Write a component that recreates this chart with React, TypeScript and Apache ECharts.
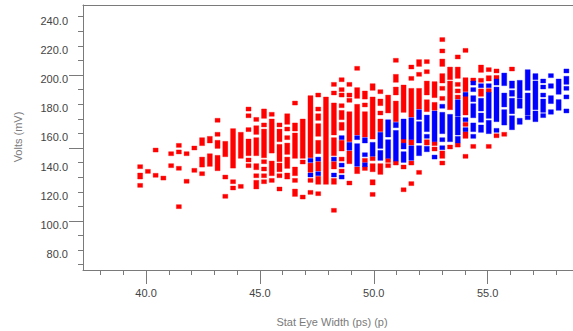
import React, { useEffect, useRef } from "react";
import * as echarts from "echarts";

// Each entry is [eye width (ps), low volts, high volts]; a two-value entry is a single point.
type Run = [number, number, number?];

const xLabelValues = [40, 45, 50, 55];
const xMinorTicks = [38, 39, 40, 41, 42, 43, 44, 45, 46, 47, 48, 49, 50, 51, 52, 53, 54, 55, 56, 57, 58];
const yLabelValues = [80, 100, 120, 140, 160, 180, 200, 220, 240];
const yMinorTicks = [70, 80, 90, 100, 110, 120, 130, 140, 150, 160, 170, 180, 190, 200, 210, 220, 230, 240];
const yMajorTicks = [100, 150, 200];

const failRuns: Run[] = [
  [39.74, 137.2], [39.74, 130.1, 131.5], [39.74, 124.4],
  [40.08, 134],
  [40.42, 148.6], [40.42, 131.3],
  [40.76, 129.4],
  [41.1, 146.1], [41.1, 137.9],
  [41.44, 151.8], [41.44, 147.3], [41.44, 136.1], [41.44, 109.8],
  [41.78, 146.1], [41.78, 127.2],
  [42.12, 150], [42.12, 134.7],
  [42.46, 153, 155.7], [42.46, 138.3, 142.4], [42.46, 132.4],
  [42.8, 154.8, 156.6], [42.8, 138.8, 144.7],
  [43.14, 169], [43.14, 159.4], [43.14, 151.1, 153.9], [43.14, 135.8, 143.6],
  [43.48, 145.4, 153.2], [43.48, 130.1], [43.48, 116.9],
  [43.82, 137.6, 161.9], [43.82, 126.9], [43.82, 122.6],
  [44.16, 144.3, 159.4], [44.16, 123.7],
  [44.5, 176.7], [44.5, 172.1], [44.5, 162.6], [44.5, 146.1, 154.8], [44.5, 141.8], [44.5, 137.9],
  [44.84, 169.6], [44.84, 160.7, 163.9], [44.84, 146.1, 155.7], [44.84, 136.5, 137.9], [44.84, 131], [44.84, 123.3, 126.5],
  [45.18, 171.7, 175.4], [45.18, 165.8], [45.18, 144.7, 161.6], [45.18, 140.6], [45.18, 135.6], [45.18, 131], [45.18, 126.9],
  [45.52, 173.1], [45.52, 147.9, 168.5], [45.52, 132.4, 139.7], [45.52, 127.8],
  [45.86, 165.8], [45.86, 155.7, 161.6], [45.86, 142, 151.1], [45.86, 135.1, 138.3], [45.86, 131], [45.86, 121.9],
  [46.2, 167.6, 172.1], [46.2, 163], [46.2, 157.1], [46.2, 147, 152], [46.2, 137.4, 142.4], [46.2, 130.1, 131.5],
  [46.54, 180.8], [46.54, 163, 165.8], [46.54, 144.3, 158.9], [46.54, 132.4, 135.6], [46.54, 127.8], [46.54, 118.2, 120.5],
  [46.88, 144.3, 168.5], [46.88, 140.4], [46.88, 116.4],
  [47.22, 144.7, 184.5], [47.22, 134.7, 138.3], [47.22, 127.8], [47.22, 119.6],
  [47.56, 186.3], [47.56, 176.7], [47.56, 170.3, 172.1], [47.56, 159.4, 165.3], [47.56, 147.5, 153.9], [47.56, 135.6, 139.3], [47.56, 126.5, 129.2], [47.56, 118.7],
  [47.9, 126.5, 183.6],
  [48.25, 193.6], [48.25, 187.7], [48.25, 160.3, 179.5], [48.25, 146.1, 155.7], [48.25, 137, 139.3], [48.25, 126.5, 127.8], [48.25, 107.3],
  [48.59, 196.8], [48.59, 190], [48.59, 186.3], [48.59, 179], [48.59, 170.8, 174.4], [48.59, 163.5, 166.2], [48.59, 149.3, 153.9], [48.59, 142.4], [48.59, 134.2],
  [48.93, 193.6], [48.93, 186.3], [48.93, 182.7], [48.93, 155.7, 173.5], [48.93, 140.6, 146.6], [48.93, 126],
  [49.27, 204.6], [49.27, 185.4, 190], [49.27, 160.3, 178.6], [49.27, 133.8, 135.6],
  [49.61, 184.9, 187.7], [49.61, 179.5], [49.61, 158.9, 173.5], [49.61, 141.5], [49.61, 136],
  [49.95, 190.9, 192.7], [49.95, 157.5, 183.6], [49.95, 142.7], [49.95, 135.1, 137.9], [49.95, 126, 126.9], [49.95, 118.2],
  [50.29, 188.6], [50.29, 180.4, 182.2], [50.29, 174], [50.29, 162.6, 168.5], [50.29, 133.3, 137.9],
  [50.63, 175.4, 184.9], [50.63, 141.5], [50.63, 137.9],
  [50.97, 210.1], [50.97, 196.4, 199.1], [50.97, 187.7, 190.4], [50.97, 169.4, 180.8], [50.97, 139.7],
  [51.31, 175.8, 191.8], [51.31, 154.8], [51.31, 137], [51.31, 121.4],
  [51.65, 205.5], [51.65, 197.7], [51.65, 172.6, 189.5], [51.65, 153.4, 154.3], [51.65, 139.7], [51.65, 125.6],
  [51.99, 207.3, 209.2], [51.99, 200.5], [51.99, 178.1, 189.5], [51.99, 133.3],
  [52.33, 209.2], [52.33, 202.3], [52.33, 187.7, 194.5], [52.33, 176.3, 181.7], [52.33, 153.4, 154.3],
  [52.67, 185.9, 194.1], [52.67, 177.2, 179.9], [52.67, 153], [52.67, 149.3],
  [53.01, 224.3], [53.01, 216.5], [53.01, 207.3, 209.6], [53.01, 195.9, 199.6], [53.01, 190.9], [53.01, 184], [53.01, 144.3, 146.6], [53.01, 139.7],
  [53.35, 198.2, 204.1], [53.35, 177.6, 194.5], [53.35, 150.7],
  [53.69, 212.4], [53.69, 199.1, 204.1], [53.69, 193.6], [53.69, 189.1], [53.69, 184.9], [53.69, 152],
  [54.03, 216.9], [54.03, 190, 196.8], [54.03, 174, 184.5], [54.03, 166.2], [54.03, 158, 159.8], [54.03, 144.3],
  [54.37, 196.6], [54.37, 151.1],
  [54.71, 203.2, 205.5], [54.71, 196.4], [54.71, 186.8, 189.1],
  [55.05, 203.7], [55.05, 197.3, 198.2], [55.05, 189.3], [55.05, 151.1],
  [55.39, 202.8], [55.39, 198.4], [55.39, 158.4],
  [55.73, 159.4],
  [56.07, 204.1],
];

const passRuns: Run[] = [
  [47.22, 141.5], [47.22, 131.5],
  [47.56, 142.4], [47.56, 132.4],
  [48.25, 142.4], [48.25, 131.5],
  [48.59, 157.1], [48.59, 138.3], [48.59, 130.1],
  [48.93, 149.8, 152.5],
  [49.27, 157.1], [49.27, 138.8, 151.6],
  [49.61, 154.8, 155.7], [49.61, 145.4], [49.61, 138.5],
  [49.95, 145.7, 152.5],
  [50.29, 151.1, 159.4], [50.29, 142.9, 147],
  [50.63, 158.9, 168], [50.63, 144.3, 154.3],
  [50.97, 165.3, 166.2], [50.97, 142.4, 160.7],
  [51.31, 157.5, 168.5], [51.31, 150.7, 152], [51.31, 141.5, 146.1],
  [51.65, 157.1, 169.4], [51.65, 142.9, 150.2],
  [51.99, 170.8, 174.9], [51.99, 154.8, 166.7], [51.99, 146.1, 150.2],
  [52.33, 162.6, 171.2], [52.33, 158], [52.33, 148.8, 149.8],
  [52.67, 155.7, 174], [52.67, 143.8],
  [53.01, 178.6], [53.01, 161.2, 173.1], [53.01, 155.7], [53.01, 150.2],
  [53.35, 155.7, 171.7],
  [53.69, 173.1, 181.7], [53.69, 160.3, 169.9], [53.69, 154.8, 156.6],
  [54.03, 186.8], [54.03, 169.4], [54.03, 162.6],
  [54.37, 194.5], [54.37, 190], [54.37, 183.1, 184.5], [54.37, 172.1, 179], [54.37, 162.6, 165.8], [54.37, 158],
  [54.71, 192.7], [54.71, 176.7, 182.7], [54.71, 169, 172.6], [54.71, 162.1, 164.4],
  [55.05, 192.7], [55.05, 171.7, 186.8], [55.05, 161.2, 167.6],
  [55.39, 194.5, 195.9], [55.39, 169.4, 190.4], [55.39, 162.1],
  [55.73, 194.1, 200], [55.73, 179.5, 186.3], [55.73, 167.1, 174.9],
  [56.07, 192.3, 194.6], [56.07, 186.8, 188.2], [56.07, 174.9, 182.7], [56.07, 163.9, 170.8],
  [56.41, 185.4, 195], [56.41, 178.6, 182.2], [56.41, 167.6, 169],
  [56.76, 190.9, 202.3], [56.76, 174, 186.3], [56.76, 170.8],
  [57.1, 198.2, 199.6], [57.1, 177.6, 194.6], [57.1, 169.4, 174],
  [57.44, 195.9], [57.44, 191.8], [57.44, 186.3], [57.44, 175.8, 182.2], [57.44, 172.2],
  [57.78, 199.6], [57.78, 192.3, 192.7], [57.78, 181.8, 184.5], [57.78, 174.5, 174.9],
  [58.12, 188.2, 195.9], [58.12, 177.2, 181.8],
  [58.46, 202.8], [58.46, 195, 197.8], [58.46, 190.9], [58.46, 185], [58.46, 175.4],
];

const X_MIN = 37.23;
const X_MAX = 58.75;
const Y_MIN = 66.4;
const Y_MAX = 248;

const FONT = "'Liberation Sans', Arial, sans-serif";
const AXIS_COLOR = "#7a7a7a";
const LABEL_COLOR = "#444";
const TITLE_COLOR = "#7a7a7a";

const toRows = (runs: Run[]) =>
  runs.map(([x, lo, hi]) => [x, lo, hi === undefined ? lo : hi]);

// Square markers stacked into runs: a 5px-wide rect with a soft 1px edge.
const makeRenderItem = (fill: string, edge: string) => (_params: any, api: any) => {
  const x = api.value(0);
  const lo = api.coord([x, api.value(1)]);
  const hi = api.coord([x, api.value(2)]);
  return {
    type: "rect",
    shape: { x: lo[0] - 2.5, y: hi[1] - 2, width: 5, height: lo[1] - hi[1] + 4 },
    style: { fill, stroke: edge, lineWidth: 1 },
  };
};

export default function App() {
  const ref = useRef<HTMLDivElement>(null);

  useEffect(() => {
    if (!ref.current) return;
    const chart = echarts.init(ref.current, undefined, { renderer: "svg" });
    const lineStyle = { color: AXIS_COLOR, width: 1 };
    const xBase = { type: "value", min: X_MIN, max: X_MAX, splitLine: { show: false } };
    const yBase = { type: "value", min: Y_MIN, max: Y_MAX, splitLine: { show: false } };

    chart.setOption({
      animation: false,
      grid: { left: 83, right: 0, top: 5, bottom: 61, containLabel: false },
      xAxis: [
        {
          ...xBase,
          position: "bottom",
          axisLine: { show: true, onZero: false, lineStyle },
          axisTick: { show: true, length: 5, customValues: xMinorTicks, lineStyle },
          axisLabel: {
            show: true,
            customValues: xLabelValues,
            formatter: (v: number) => v.toFixed(1),
            margin: 17,
            color: LABEL_COLOR,
            fontSize: 11,
            fontFamily: FONT,
          },
        },
        {
          ...xBase,
          position: "bottom",
          axisLine: { show: false, onZero: false },
          axisTick: { show: true, length: 14, customValues: xLabelValues, lineStyle },
          axisLabel: { show: false },
        },
        {
          ...xBase,
          position: "top",
          axisLine: { show: true, onZero: false, lineStyle },
          axisTick: { show: false },
          axisLabel: { show: false },
        },
      ],
      yAxis: [
        {
          ...yBase,
          position: "left",
          axisLine: { show: true, onZero: false, lineStyle },
          axisTick: { show: true, length: 5, customValues: yMinorTicks, lineStyle },
          axisLabel: {
            show: true,
            customValues: yLabelValues,
            formatter: (v: number) => v.toFixed(1),
            margin: 15,
            verticalAlign: "top",
            lineHeight: 8,
            color: LABEL_COLOR,
            fontSize: 11,
            fontFamily: FONT,
          },
        },
        {
          ...yBase,
          position: "left",
          axisLine: { show: false, onZero: false },
          axisTick: { show: true, length: 14, customValues: yMajorTicks, lineStyle },
          axisLabel: { show: false },
        },
      ],
      graphic: [
        {
          type: "text",
          x: 18,
          y: 137,
          rotation: Math.PI / 2,
          style: {
            text: "Volts (mV)",
            align: "center",
            verticalAlign: "middle",
            fill: TITLE_COLOR,
            font: `11px ${FONT}`,
          },
        },
        {
          type: "text",
          x: 332,
          y: 322,
          style: {
            text: "Stat Eye Width (ps) (p)",
            align: "center",
            verticalAlign: "middle",
            fill: TITLE_COLOR,
            font: `11px ${FONT}`,
          },
        },
      ],
      series: [
        {
          name: "Fail",
          type: "custom",
          xAxisIndex: 0,
          yAxisIndex: 0,
          encode: { x: 0, y: [1, 2] },
          renderItem: makeRenderItem("#ff0000", "rgba(255,0,0,0.35)"),
          data: toRows(failRuns),
        },
        {
          name: "Pass",
          type: "custom",
          xAxisIndex: 0,
          yAxisIndex: 0,
          encode: { x: 0, y: [1, 2] },
          renderItem: makeRenderItem("#0000ff", "rgba(0,0,255,0.35)"),
          data: toRows(passRuns),
        },
      ],
    });

    return () => chart.dispose();
  }, []);

  return (
    <div
      ref={ref}
      style={{ position: "absolute", left: 0, top: 0, width: 573, height: 331, background: "#fff" }}
    />
  );
}
